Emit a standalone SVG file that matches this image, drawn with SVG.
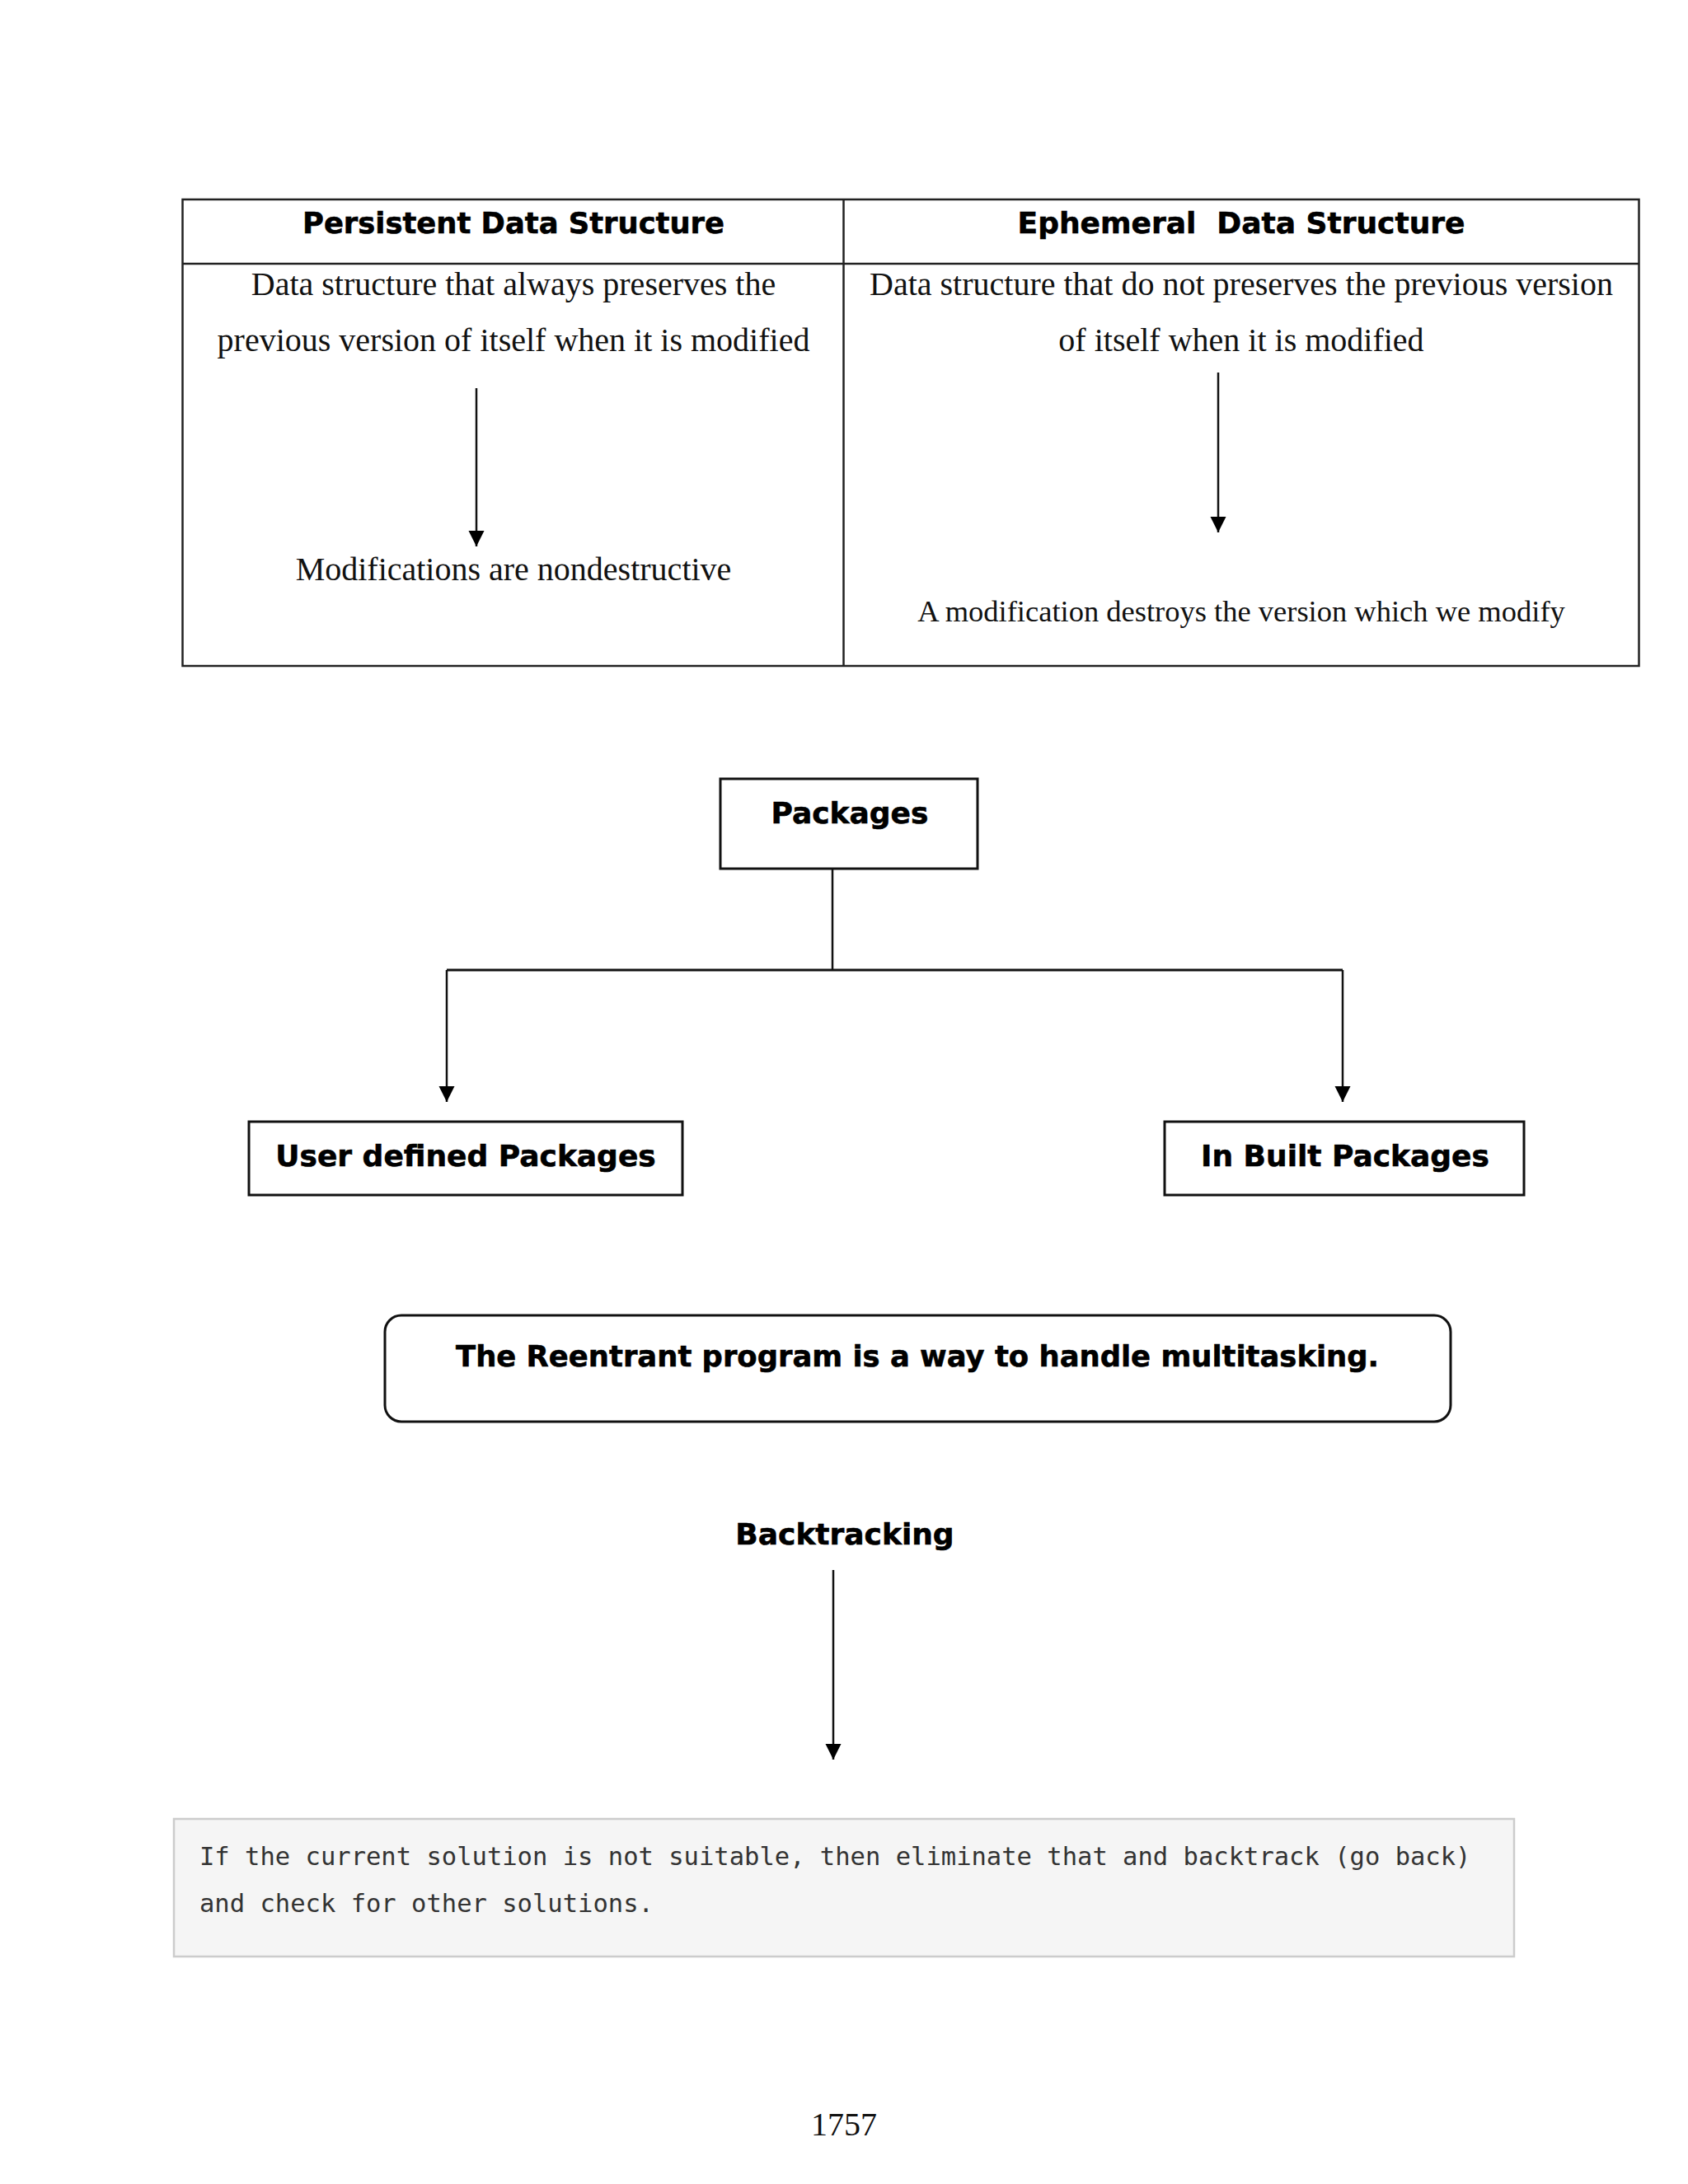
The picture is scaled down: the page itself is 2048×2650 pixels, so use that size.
<svg xmlns="http://www.w3.org/2000/svg" width="2048" height="2650" viewBox="0 0 2048 2650">
<style>
.hd{font-family:"DejaVu Sans",Verdana,sans-serif;font-weight:bold;font-size:36px;fill:#000;stroke:#000;stroke-width:0.6;text-anchor:middle}
.tm{font-family:"Liberation Serif","Times New Roman",serif;font-size:40px;fill:#111;text-anchor:middle}
.mono{font-family:"DejaVu Sans Mono","Liberation Mono",monospace;font-size:30.5px;fill:#333}
.box{fill:#fff;stroke:#111;stroke-width:3}
.ln{stroke:#111;stroke-width:2.5;fill:none}
</style>
<defs>
<marker id="ah" markerUnits="userSpaceOnUse" markerWidth="20" markerHeight="20" refX="19" refY="9.5" orient="auto">
<path d="M0,0 L19,9.5 L0,19 z" fill="#000"/>
</marker>
</defs>
<rect width="2048" height="2650" fill="#fff"/>

<g id="table">
<rect x="221.5" y="242" width="1767" height="566" fill="none" stroke="#222" stroke-width="2.5"/>
<line x1="221.5" y1="320" x2="1988.5" y2="320" stroke="#222" stroke-width="2.5"/>
<line x1="1023.5" y1="242" x2="1023.5" y2="808" stroke="#222" stroke-width="2.5"/>
</g>
<g id="persistent">
<text class="hd" x="623" y="283" textLength="512" lengthAdjust="spacingAndGlyphs">Persistent Data Structure</text>
<text class="tm" x="623" y="358">Data structure that always preserves the</text>
<text class="tm" x="623" y="426">previous version of itself when it is modified</text>
<text class="tm" x="623" y="704">Modifications are nondestructive</text>
</g>
<g id="ephemeral">
<text class="hd" x="1506" y="283" xml:space="preserve">Ephemeral  Data Structure</text>
<text class="tm" x="1506" y="358">Data structure that do not preserves the previous version</text>
<text class="tm" x="1506" y="426">of itself when it is modified</text>
<text class="tm" x="1506" y="754" style="font-size:36.5px">A modification destroys the version which we modify</text>
</g>

<g id="packages">
<rect class="box" x="874" y="945" width="312" height="109"/>
<text class="hd" x="1031" y="999">Packages</text>
</g>
<g id="user-defined">
<rect class="box" x="302" y="1361" width="526" height="89"/>
<text class="hd" x="565" y="1415">User defined Packages</text>
</g>
<g id="in-built">
<rect class="box" x="1413" y="1361" width="436" height="89"/>
<text class="hd" x="1632" y="1415">In Built Packages</text>
</g>

<g id="reentrant">
<rect class="box" x="467" y="1596" width="1293" height="129" rx="20" ry="20"/>
<text class="hd" x="1113" y="1658" textLength="1120" lengthAdjust="spacingAndGlyphs">The Reentrant program is a way to handle multitasking.</text>
</g>

<g id="backtracking">
<text class="hd" x="1025" y="1874">Backtracking</text>
</g>
<g id="backtrack-desc">
<rect x="211" y="2207" width="1626" height="167" fill="#f5f5f5" stroke="#cccccc" stroke-width="2.5"/>
<text class="mono" x="242" y="2263">If the current solution is not suitable, then eliminate that and backtrack (go back)</text>
<text class="mono" x="242" y="2320">and check for other solutions.</text>
</g>

<g id="page-number">
<text class="tm" x="1024" y="2591">1757</text>
</g>

<g id="connectors">
<line class="ln" x1="578" y1="471" x2="578" y2="663" marker-end="url(#ah)"/>
<line class="ln" x1="1478" y1="452" x2="1478" y2="646" marker-end="url(#ah)"/>
<line class="ln" x1="1010" y1="1054" x2="1010" y2="1177"/>
<line class="ln" x1="542" y1="1177" x2="1629" y2="1177" style="stroke-width:3"/>
<line class="ln" x1="542" y1="1177" x2="542" y2="1337" marker-end="url(#ah)"/>
<line class="ln" x1="1629" y1="1177" x2="1629" y2="1337" marker-end="url(#ah)"/>
<line class="ln" x1="1011" y1="1905" x2="1011" y2="2135" marker-end="url(#ah)"/>
</g>
</svg>
